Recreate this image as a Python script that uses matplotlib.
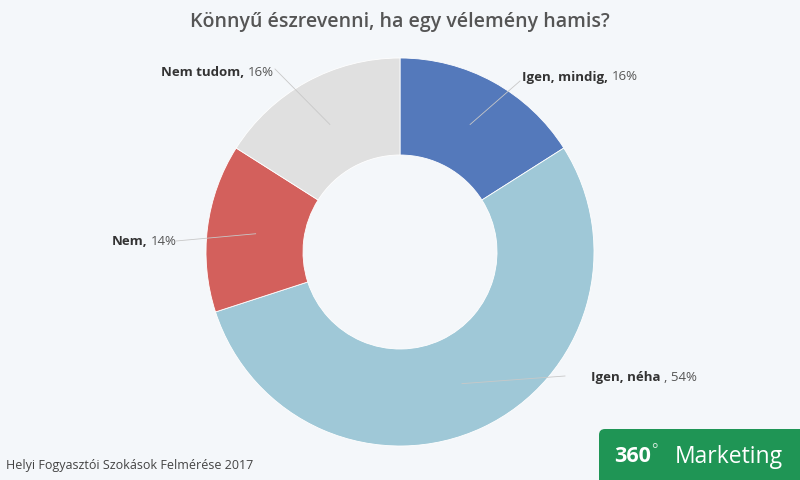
import matplotlib
matplotlib.use("Agg")
import matplotlib.pyplot as plt
from matplotlib.patches import FancyBboxPatch
import numpy as np

# ---- data ----
categories = ["Igen, mindig", "Igen, néha", "Nem", "Nem tudom"]
values = [16, 54, 14, 16]
label_names = ["Igen, mindig,", "Igen, néha", "Nem,", "Nem tudom,"]
label_pcts = ["16%", ", 54%", "14%", "16%"]
colors = ["#5479bb", "#9fc8d7", "#d3605c", "#e0e0e0"]
title = "Könnyű észrevenni, ha egy vélemény hamis?"
footer = "Helyi Fogyasztói Szokások Felmérése 2017"

W, H = 800, 481
BG = "#f4f7fa"
FONT = ["Open Sans", "DejaVu Sans"]
plt.rcParams['font.family'] = FONT

fig = plt.figure(figsize=(W / 100, H / 100), dpi=100, facecolor=BG)
ax = fig.add_axes([0, 0, 1, 1])
ax.set_facecolor(BG)

cx, cy = 400, H - 253
R = 194
ax.pie(values, colors=colors, startangle=90, counterclock=False,
       center=(cx, cy), radius=R, frame=True,
       wedgeprops=dict(width=R * 0.5, edgecolor="white", linewidth=0.6))
ax.set_xlim(0, W)
ax.set_ylim(0, H)
ax.axis("off")

# label positions (left x, y in pixel from top)
label_pos = [(522, 77), (591, 378), (112, 242), (161, 72)]
line_ends = [(520, 82), (565, 377), (176, 242), (275, 70)]

cum = np.cumsum([0] + values)
for i in range(len(values)):
    mid = (cum[i] + cum[i + 1]) / 2 / 100 * 360
    rmid = R * 0.75
    px = cx + rmid * np.sin(np.radians(mid))
    py = cy + rmid * np.cos(np.radians(mid))
    ex, ey = line_ends[i]
    ax.plot([px, ex], [py, H - ey], color="#c8c8c8", lw=0.6, zorder=3)
    lx, ly = label_pos[i]
    t = ax.text(lx, H - ly, label_names[i], fontsize=9.5, fontweight="bold",
                color="#333333", ha="left", va="center", zorder=4)
    ax.annotate(label_pcts[i], xy=(1, 0.5), xycoords=t,
                xytext=(2.5, 0), textcoords="offset points", fontsize=9.5,
                color="#555555", ha="left", va="center", zorder=4)

ax.text(400, H - 22, title, fontsize=14, fontweight="semibold",
        color="#555555", ha="center", va="center")
ax.text(6, H - 466, footer, fontsize=9, color="#444444", ha="left", va="center")

# green brand box
box = FancyBboxPatch((599, -10), 220, H - 430 + 10,
                     boxstyle="round,pad=0,rounding_size=6",
                     facecolor="#1f9555", edgecolor="none", zorder=5)
ax.add_patch(box)
t1 = ax.text(614, H - 457, "360", fontsize=15.5, fontweight="bold",
             color="white", ha="left", va="center", zorder=6)
ax.annotate("°", xy=(1, 0.8), xycoords=t1, xytext=(0.5, 0),
            textcoords="offset points", fontsize=11,
            color="#cfe9d9", ha="left", va="center", zorder=6)
ax.text(675, H - 457, "Marketing", fontsize=16.5, color="white",
        ha="left", va="center", zorder=6)

fig.savefig("out.png", dpi=100, facecolor=BG)
